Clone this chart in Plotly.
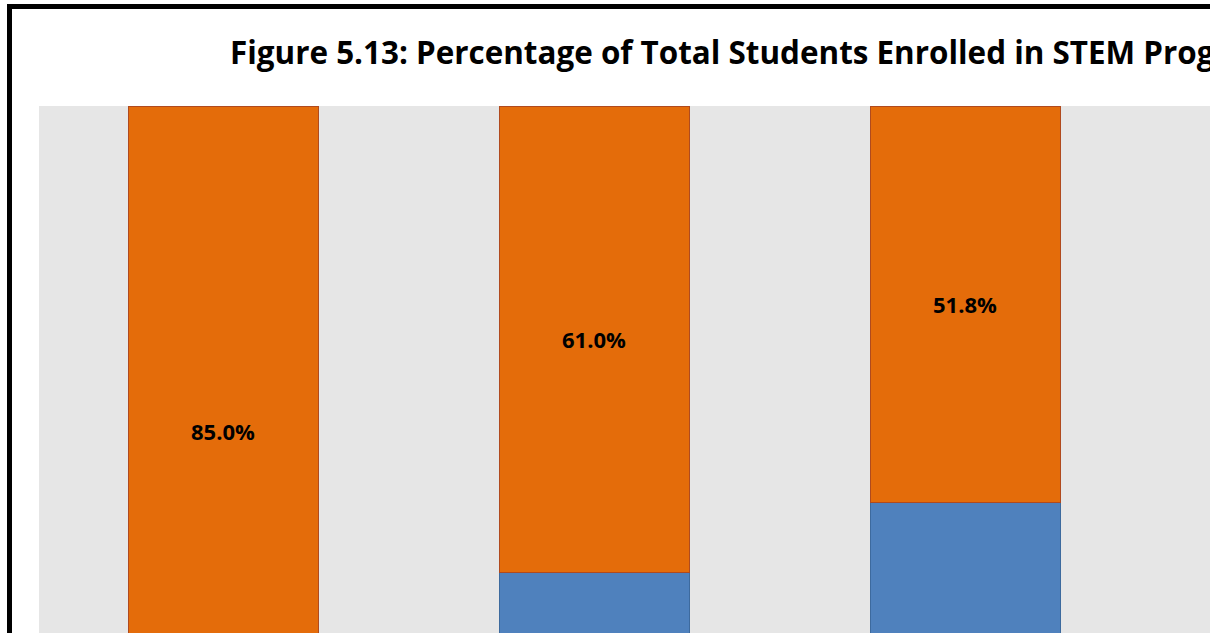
import plotly.graph_objects as go

# Stacked 100% bars: share of students in each of the two groups
categories = ["Group 1", "Group 2", "Group 3"]
lower_share = [15.0, 39.0, 48.2]   # blue segment (%)
upper_share = [85.0, 61.0, 51.8]   # orange segment (%)

title_text = "Figure 5.13: Percentage of Total Students Enrolled in STEM Programs"

W, H = 1210, 633
ML, MT = 39, 106
plot_w = W - ML
plot_h = H - MT

BLUE = "#4F81BD"
ORANGE = "#E46C0A"
FONT = "Open Sans, Lato, sans-serif"

fig = go.Figure()
fig.add_trace(go.Bar(
    x=categories, y=lower_share, name="Lower",
    marker=dict(color=BLUE, line=dict(color="#3D6A9E", width=1)),
))
fig.add_trace(go.Bar(
    x=categories, y=upper_share, name="Upper",
    marker=dict(color=ORANGE, line=dict(color="#B04A1E", width=1)),
))

# value labels in the middle of each orange segment
for c, lo, up in zip(categories, lower_share, upper_share):
    fig.add_annotation(
        x=c, y=lo + up / 2, xref="x", yref="y",
        text=f"<b>{up:.1f}%</b>", showarrow=False,
        font=dict(family=FONT, size=22, color="#000000"),
    )

# title, left aligned at its start (paper coords span the plot area)
fig.add_annotation(
    x=(228 - ML) / plot_w, y=(H - 52) / plot_h, xref="paper", yref="paper",
    text=f"<b>{title_text}</b>", showarrow=False,
    xanchor="left", yanchor="middle",
    font=dict(family=FONT, size=31.4, color="#000000"),
)

# black chart frame
fig.add_shape(
    type="rect", xref="paper", yref="paper",
    x0=(9.5 - ML) / plot_w, x1=1.2,
    y0=-0.2, y1=(H - 6.5) / plot_h,
    line=dict(color="#000000", width=5), fillcolor="rgba(0,0,0,0)",
    layer="above",
)

px_per_cat = 371
x0 = -(223 - ML) / px_per_cat
x1 = x0 + plot_w / px_per_cat
px_per_pct = 7.651
y_lo = 100 - plot_h / px_per_pct

fig.update_layout(
    width=W, height=H,
    margin=dict(l=ML, r=0, t=MT, b=0, pad=0),
    barmode="stack",
    bargap=1 - 190 / px_per_cat,
    paper_bgcolor="#FFFFFF",
    plot_bgcolor="#E6E6E6",
    showlegend=False,
    xaxis=dict(range=[x0, x1], showticklabels=False, showgrid=False,
               zeroline=False, showline=False, ticks=""),
    yaxis=dict(range=[y_lo, 100], showticklabels=False, showgrid=False,
               zeroline=False, showline=False, ticks=""),
)

fig.write_html("out.html")
